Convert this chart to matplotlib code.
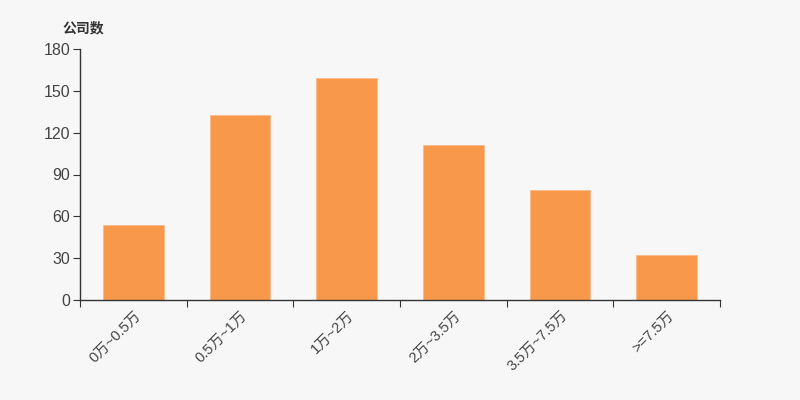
import numpy as np
import matplotlib.pyplot as plt

plt.rcParams['font.family'] = ['Liberation Sans', 'Noto Sans CJK SC', 'DejaVu Sans']

categories = ['0万~0.5万', '0.5万~1万', '1万~2万', '2万~3.5万', '3.5万~7.5万', '>=7.5万']
counts = [54, 133, 159, 111, 79, 32]
yticks = [0, 30, 60, 90, 120, 150, 180]

bg = '#f7f7f7'
fig = plt.figure(figsize=(8, 4), dpi=100, facecolor=bg)
ax = fig.add_axes([0.1, 0.25, 0.8, 0.6275], facecolor=bg)

x = np.arange(len(categories))
ax.bar(x, counts, width=0.57, color='#f7984a', edgecolor='#fbb98a', linewidth=0.6)

ax.set_xlim(-0.5, len(categories) - 0.5)
ax.set_ylim(0, 180)
ax.set_yticks(yticks)
ax.set_xticks(np.arange(len(categories) + 1) - 0.5, minor=False)
ax.set_xticklabels([])
ax.set_xticks(x, minor=True)
ax.set_xticklabels(categories, minor=True, rotation=45, ha='right', rotation_mode='anchor',
                   fontsize=10.5, color='#444444')
ax.tick_params(axis='x', which='minor', length=0, pad=6)
ax.tick_params(axis='x', which='major', length=5, color='#333333', direction='out')
ax.tick_params(axis='y', length=5, color='#333333', labelsize=11.5, labelcolor='#444444', pad=2)

for s in ['top', 'right']:
    ax.spines[s].set_visible(False)
for s in ['left', 'bottom']:
    ax.spines[s].set_color('#333333')
    ax.spines[s].set_linewidth(1)

fig.text(0.078, 0.92, '公司数', fontsize=10, fontweight='bold', color='#333333',
         family=['Noto Sans CJK SC', 'DejaVu Sans'])

fig.savefig('out.png', dpi=100, facecolor=bg)
